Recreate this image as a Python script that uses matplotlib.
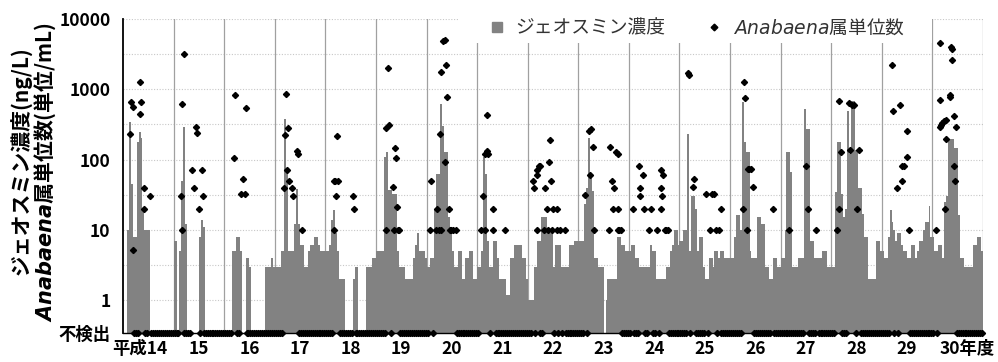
import numpy as np
import matplotlib
matplotlib.use("Agg")
import matplotlib.pyplot as plt
from matplotlib.lines import Line2D
from matplotlib.patches import Rectangle
from matplotlib.transforms import ScaledTranslation

plt.rcParams["font.family"] = ["Noto Sans CJK JP", "DejaVu Sans"]
plt.rcParams["mathtext.fontset"] = "custom"
plt.rcParams["mathtext.it"] = "DejaVu Sans:italic"
plt.rcParams["mathtext.bfit"] = "DejaVu Sans:italic:bold"

# fiscal years (Heisei), geosmin ng/L, 26 half-month slots per year (0 = not detected)
years = list(range(14, 31))
year_labels = ["平成14"] + [str(y) for y in range(15, 30)] + ["30年度"]

g14 = [0, 0, 10, 340, 45, 8, 8, 180, 245, 200, 20, 10, 10, 10, 0, 0, 0, 0, 0, 0, 0, 0, 0, 0, 0, 0]
g15 = [7, 7, 0, 5, 50, 290, 12, 0, 0, 0, 0, 0, 0, 8, 14, 11, 0, 0, 0, 0, 0, 0, 0, 0, 0, 0]
g16 = [0, 0, 0, 0, 5, 5, 8, 8, 5, 0, 0, 4, 4, 3, 0, 0, 0, 0, 0, 0, 0, 3, 3, 3, 4, 3]
g17 = [3, 3, 3, 5, 5, 380, 68, 5, 5, 5, 12, 38, 12, 6, 6, 3, 3, 5, 6, 6, 8, 8, 6, 5, 5, 5]
g18 = [5, 5, 6, 14, 19, 9, 5, 2, 2, 2, 0, 0, 0, 0, 2, 3, 3, 0, 0, 0, 0, 3, 3, 3, 4, 4]
g19 = [5, 5, 5, 5, 110, 130, 37, 37, 32, 32, 32, 5, 3, 3, 3, 2, 2, 2, 2, 4, 6, 9, 5, 5, 5, 4]
g20 = [3, 3, 4, 4, 19, 62, 62, 610, 300, 127, 127, 15, 9, 5, 3, 3, 5, 5, 2, 2, 4, 4, 5, 5, 2, 2]
g21 = [3, 3, 5, 108, 62, 7, 3, 3, 7, 7, 4, 2, 2, 2, 2, 1.2, 1.2, 4, 4, 6, 6, 6, 6, 4, 4, 2]
g22 = [1, 1, 1, 3, 3, 7, 7, 15, 15, 15, 9, 9, 9, 3, 6, 6, 6, 3, 3, 3, 3, 6, 6, 6, 7, 7]
g23 = [7, 7, 7, 23, 40, 200, 60, 36, 4, 4, 3, 3, 3, 0, 1, 2, 2, 2, 2, 2, 8, 8, 6, 6, 5, 5]
g24 = [5, 6, 6, 4, 4, 3, 3, 3, 3, 3, 3, 6, 5, 5, 2, 2, 2, 2, 2, 3, 3, 5, 6, 10, 10, 6]
g25 = [7, 7, 10, 10, 228, 5, 30, 30, 20, 5, 8, 8, 3, 2, 2, 4, 4, 3, 5, 5, 4, 5, 5, 4, 4, 4]
g26 = [4, 4, 8, 16, 16, 10, 650, 175, 130, 130, 5, 4, 4, 4, 15, 15, 12, 12, 3, 3, 2, 2, 4, 4, 3, 3]
g27 = [4, 4, 10, 130, 130, 67, 3, 3, 3, 4, 4, 4, 520, 270, 270, 7, 7, 4, 4, 4, 4, 5, 5, 5, 3, 3]
g28 = [3, 3, 35, 180, 180, 32, 15, 20, 490, 118, 670, 670, 135, 135, 40, 40, 17, 8, 8, 2, 2, 2, 2, 7, 7, 5]
g29 = [5, 4, 4, 8, 19, 13, 10, 7, 9, 9, 6, 5, 5, 4, 4, 6, 6, 4, 5, 7, 7, 10, 13, 13, 22, 8]
g30 = [8, 5, 5, 6, 6, 4, 25, 30, 195, 195, 195, 146, 146, 16, 4, 4, 3, 3, 3, 3, 3, 6, 6, 8, 8, 5]
geo = [g14, g15, g16, g17, g18, g19, g20, g21, g22, g23, g24, g25, g26, g27, g28, g29, g30]

# Anabaena detections: week of fiscal year, units/mL
a14_wk = [7.2, 8.2, 9.6, 9.9, 16.8, 17.4, 18.5, 20.9, 21.5, 27.7]
a14_val = [230, 650, 560, 5.1, 440, 1260, 650, 20, 40, 30]
a15_wk = [7.2, 8.6, 8.6, 9.9, 18.1, 20.2, 22.2, 23.3, 25.7, 28.4, 29.4]
a15_val = [30, 610, 10, 3200, 71, 40, 290, 235, 20, 71, 30]
a16_wk = [9.6, 10.6, 17.1, 18.8, 20.5, 21.6]
a16_val = [105, 820, 32, 52, 32, 550]
a17_wk = [9.2, 9.9, 11.3, 12.0, 13.3, 14.4, 17.4, 18.5, 21.9, 23.3, 28.0]
a17_val = [40, 220, 870, 71, 283, 50, 40, 30, 131, 120, 10]
a18_wk = [7.9, 8.6, 9.6, 10.6, 11.3, 13.0, 28.4, 29.4]
a18_val = [50, 10, 50, 30, 213, 50, 30, 20]
a19_wk = [9.9, 9.9, 11.6, 13.3, 16.8, 17.8, 19.2, 20.2, 21.2, 21.9, 23.6]
a19_val = [285, 10, 1990, 310, 41, 10, 148, 105, 21, 10, 10]
a20_wk = [3.4, 4.4, 9.6, 10.6, 12.3, 13.7, 14.7, 14.7, 16.4, 18.1, 18.1, 19.8, 20.9, 22.2, 23.3, 25.0, 26.7, 29.4]
a20_val = [10, 50, 10, 20, 10, 234, 1780, 10, 4880, 5100, 91, 2200, 780, 20, 10, 10, 10, 10]
a21_wk = [3.4, 5.1, 7.5, 7.5, 9.2, 9.2, 10.9, 15.4, 16.1, 28.0]
a21_val = [10, 30, 121, 10, 425, 134, 121, 10, 20, 10]
a22_wk = [5.3, 6.0, 8.7, 8.7, 9.4, 10.8, 12.1, 16.6, 17.3, 19.0, 20.0, 21.7, 22.4, 23.1, 24.1, 25.1, 29.2, 29.2, 32.7, 37.8]
a22_val = [50, 40, 71, 10, 60, 82, 82, 10, 40, 20, 10, 91, 190, 50, 10, 20, 20, 10, 10, 10]
a23_wk = [6.5, 10.9, 12.0, 12.7, 14.4, 15.4, 30.8, 32.5, 33.9, 34.9, 35.9, 38.3, 40.0, 40.0, 40.7, 41.7, 43.4]
a23_val = [31, 257, 60, 270, 150, 10, 10, 150, 50, 20, 40, 130, 20, 10, 120, 10, 10]
a24_wk = [3.4, 9.9, 10.9, 10.9, 13.7, 15.1, 20.2, 22.6, 28.7, 32.2, 32.2, 32.2, 33.9, 34.9, 36.6, 37.3, 39.7]
a24_val = [20, 82, 40, 30, 60, 20, 10, 20, 10, 71, 40, 20, 30, 60, 10, 10, 10]
a25_wk = [8.6, 9.2, 13.7, 14.4, 26.3, 30.8, 33.2, 34.9, 36.6, 40.0, 41.7]
a25_val = [1700, 1580, 41, 52, 32, 10, 32, 32, 10, 10, 20]
a26_wk = [12.5, 13.5, 14.9, 16.6, 17.6, 19.3, 21.0, 23.4, 43.3]
a26_val = [20, 1260, 750, 10, 74, 74, 74, 41, 20]
a27_wk = [8.0, 25.8, 27.9, 36.1]
a27_val = [10, 82, 20, 10]
a28_wk = [5.0, 7.4, 7.7, 9.1, 17.3, 18.6, 20.4, 22.7, 26.2, 28.2]
a28_val = [10, 670, 20, 126, 630, 135, 600, 590, 20, 135]
a29_wk = [9.6, 10.6, 15.1, 18.1, 19.8, 20.5, 22.2, 25.0, 25.7, 27.4]
a29_val = [2240, 490, 40, 590, 50, 82, 82, 110, 258, 10]
a30_wk = [3.1, 6.8, 7.5, 7.5, 8.2, 9.6, 11.6, 12.7, 13.3, 13.7, 17.1, 17.8, 18.5, 19.2, 19.5, 21.2, 22.2, 22.9, 23.9]
a30_val = [10, 290, 4600, 700, 310, 330, 350, 20, 195, 360, 820, 780, 3980, 2580, 3800, 410, 80, 50, 295]
ana_wk = [a14_wk, a15_wk, a16_wk, a17_wk, a18_wk, a19_wk, a20_wk, a21_wk, a22_wk,
          a23_wk, a24_wk, a25_wk, a26_wk, a27_wk, a28_wk, a29_wk, a30_wk]
ana_val = [a14_val, a15_val, a16_val, a17_val, a18_val, a19_val, a20_val, a21_val, a22_val,
           a23_val, a24_val, a25_val, a26_val, a27_val, a28_val, a29_val, a30_val]

# weeks with no Anabaena sample (no "not detected" marker)
gap_year = [14, 23, 30]
gap_from = [0, 13, 7]
gap_to = [9, 42, 24]

Y_MIN = 0.34
BAR_COLOR = "#828282"
MS = 3.1

fig = plt.figure(figsize=(9.98, 3.62), dpi=100)
ax = fig.add_axes([123 / 998, 29 / 362, 860 / 998, 314 / 362])
ax.set_yscale("log")
ax.set_ylim(Y_MIN, 10000)
ax.set_xlim(0, len(years))

# half-decade dotted grid
for k in range(9):
    ax.axhline(10 ** (k / 2), color="#c8c8c8", lw=0.8, ls=(0, (1, 1.5)), zorder=0)
# year separators
for i in range(1, len(years) + 1):
    ax.axvline(i, color="#a0a0a0", lw=0.9, zorder=1)

# geosmin bars
n_slot = 26
for i, g in enumerate(geo):
    g = np.array(g, dtype=float)
    x = i + (np.arange(n_slot) + 0.5) / n_slot
    m = g > 0
    ax.bar(x[m], g[m] - Y_MIN, bottom=Y_MIN, width=1 / n_slot,
           color=BAR_COLOR, linewidth=0, zorder=2)

# Anabaena: not detected along the bottom (one per half-month slot)
nd_x = []
for i, y in enumerate(years):
    for k in range(n_slot):
        w = (k + 0.5) * 52 / n_slot
        skip = any(gy == y and g0 <= w <= g1
                   for gy, g0, g1 in zip(gap_year, gap_from, gap_to))
        if any(abs(w - d) < 0.9 for d in ana_wk[i]):
            skip = True
        if not skip:
            nd_x.append(i + (k + 0.5) / n_slot)
ax.plot(nd_x, [Y_MIN] * len(nd_x), ls="none", marker="D", ms=MS,
        color="black", clip_on=False, zorder=5)

# Anabaena: detected
for i in range(len(years)):
    x = i + (np.array(ana_wk[i]) + 0.5) / 52
    ax.plot(x, ana_val[i], ls="none", marker="D", ms=MS, color="black", zorder=5)

# axes styling
for s in ["top", "right"]:
    ax.spines[s].set_visible(False)
ax.spines["left"].set_linewidth(1.3)
ax.spines["bottom"].set_linewidth(1.0)
ax.spines["left"].set_zorder(6)
ax.spines["bottom"].set_zorder(4)

ax.set_yticks([Y_MIN, 1, 10, 100, 1000, 10000])
ax.set_yticklabels(["不検出", "1", "10", "100", "1000", "10000"])
ax.yaxis.set_minor_locator(matplotlib.ticker.NullLocator())
ax.set_xticks(np.arange(len(years)) + 0.5)
ax.set_xticklabels(year_labels)
ax.tick_params(axis="both", length=0, labelsize=12.5)
ax.tick_params(axis="y", pad=9)
ax.tick_params(axis="x", pad=5)
for lab in ax.get_xticklabels() + ax.get_yticklabels():
    lab.set_fontweight("bold")
xl = ax.get_xticklabels()
xl[0].set_transform(xl[0].get_transform() + ScaledTranslation(-0.08, 0, fig.dpi_scale_trans))
xl[-1].set_transform(xl[-1].get_transform() + ScaledTranslation(0.1, 0, fig.dpi_scale_trans))

# y axis title, two lines
fig.text(22 / 998, 1 - 161 / 362, "ジェオスミン濃度(ng/L)", rotation=90,
         ha="center", va="center", fontsize=15, fontweight="bold")
fig.text(45 / 998, 1 - 172 / 362, r"$\mathbfit{Anabaena}$属単位数(単位/mL)", rotation=90,
         ha="center", va="center", fontsize=15, fontweight="bold")

# white backing behind legend
ax.add_patch(Rectangle((0.3895, 0.9236), 0.551, 0.12, transform=ax.transAxes,
                       facecolor="white", edgecolor="none", clip_on=False, zorder=4.5))
handles = [
    Line2D([0], [0], marker="s", ls="none", color=BAR_COLOR, ms=7.5),
    Line2D([0], [0], marker="D", ls="none", color="black", ms=MS + 0.3),
]
leg = fig.legend(handles, ["ジェオスミン濃度", r"$\mathit{Anabaena}$属単位数"],
                 loc="center", bbox_to_anchor=(697 / 998, 1 - 28 / 362), ncol=2,
                 frameon=False, fontsize=13.5, handlelength=0.8, handletextpad=0.6,
                 columnspacing=2.2, labelcolor="#333333")

fig.savefig("out.png", dpi=100)
